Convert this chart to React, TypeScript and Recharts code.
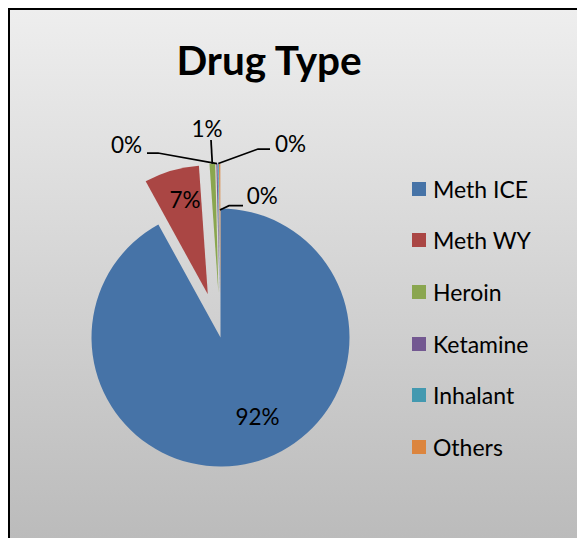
import React from "react";
import { PieChart, Pie, Cell, Legend } from "recharts";

const categories = ["Meth ICE", "Meth WY", "Heroin", "Ketamine", "Inhalant", "Others"];
const shares = [92.0, 6.9, 0.7, 0.15, 0.1, 0.15];
const colors = ["#4673a7", "#aa4644", "#8aa64f", "#735891", "#4399b0", "#dc853e"];
// how far each slice is pulled out of the pie, px
const explode = [0, 45, 45, 45, 45, 45];

const data = categories.map((name, i) => ({ name, value: shares[i] }));

const W = 590;
const H = 550;
const CX = 210.5;
const CY = 327.5;
const R = 129;
const FONT = "Lato, 'Open Sans', sans-serif";
const RAD = Math.PI / 180;

const total = shares.reduce((a, b) => a + b, 0);
const midDeg = shares.map(
  (v, i) => ((shares.slice(0, i).reduce((a, b) => a + b, 0) + v / 2) / total) * 360
);
const centers = midDeg.map((m, i) => ({
  x: CX + explode[i] * Math.sin(m * RAD),
  y: CY - explode[i] * Math.cos(m * RAD),
}));

// label placement relative to the pie centre (Excel "best fit" style)
const labelLayout: any[] = [
  { text: [37, 87.5], anchor: "middle" },
  { text: [-35.5, -129.2], anchor: "middle" },
  { from: 1, line: [[-9.5, -197.5]], text: [-13.5, -200.5], anchor: "middle" },
  { from: 1, line: [[-62.5, -184.5], [-73.5, -184.5]], text: [-78.5, -184.5], anchor: "end" },
  { from: 1, line: [[37.5, -188.5], [49.5, -188.5]], text: [54.5, -185.8], anchor: "start" },
  { from: 0.64, line: [[8.5, -131.8], [22.5, -131.8]], text: [26.2, -133.2], anchor: "start" },
];

const makeLabel = (slice: number) => (props: any) => {
  const { index, cx, cy, midAngle, outerRadius, percent } = props;
  if (index !== slice) return null;
  const L = labelLayout[slice];
  let line = null;
  if (L.line) {
    const r = outerRadius * L.from;
    const sx = cx + r * Math.cos(-midAngle * RAD);
    const sy = cy + r * Math.sin(-midAngle * RAD);
    const pts = [[sx, sy], ...L.line.map(([dx, dy]: number[]) => [CX + dx, CY + dy])];
    line = (
      <polyline
        points={pts.map((p) => p.join(",")).join(" ")}
        fill="none"
        stroke="#000"
        strokeWidth={1.75}
      />
    );
  }
  return (
    <g>
      {line}
      <text
        x={CX + L.text[0]}
        y={CY + L.text[1]}
        textAnchor={L.anchor}
        fontFamily={FONT}
        fontSize={22.5}
        fill="#000"
      >
        {`${Math.round(percent * 100)}%`}
      </text>
    </g>
  );
};

function LegendList() {
  return (
    <div style={{ fontFamily: FONT, fontSize: 23, color: "#000" }}>
      {categories.map((c, i) => (
        <div key={c} style={{ display: "flex", alignItems: "center", height: 51.6 }}>
          <span
            style={{ display: "inline-block", width: 14, height: 14, background: colors[i], marginRight: 7 }}
          />
          <span>{c}</span>
        </div>
      ))}
    </div>
  );
}

export default function App() {
  return (
    <div style={{ position: "fixed", left: 8, top: 8, width: 569, height: 530, overflow: "hidden" }}>
      <div
        style={{
          position: "relative",
          width: W,
          height: H,
          border: "2px solid #000",
          background: "linear-gradient(#eeeeee, #b9b9b9)",
        }}
      >
        <svg width={W} height={100} style={{ position: "absolute", left: 0, top: 0 }}>
          <text x={259} y={65} textAnchor="middle" fontFamily={FONT} fontWeight="bold" fontSize={40.5}>
            Drug Type
          </text>
        </svg>
        <PieChart width={W} height={H} margin={{ top: 0, right: 0, bottom: 0, left: 0 }}>
          {data.map((_, i) => (
            <Pie
              key={i}
              data={data}
              dataKey="value"
              nameKey="name"
              cx={centers[i].x}
              cy={centers[i].y}
              outerRadius={R}
              startAngle={90}
              endAngle={-270}
              stroke="none"
              isAnimationActive={false}
              label={makeLabel(i)}
              labelLine={false}
            >
              {data.map((d, j) => (
                <Cell key={d.name} fill={j === i ? colors[j] : "transparent"} />
              ))}
            </Pie>
          ))}
          <Legend
            layout="vertical"
            align="right"
            verticalAlign="middle"
            content={() => <LegendList />}
            wrapperStyle={{ left: 402, top: 153, width: 170 }}
          />
        </PieChart>
      </div>
    </div>
  );
}
